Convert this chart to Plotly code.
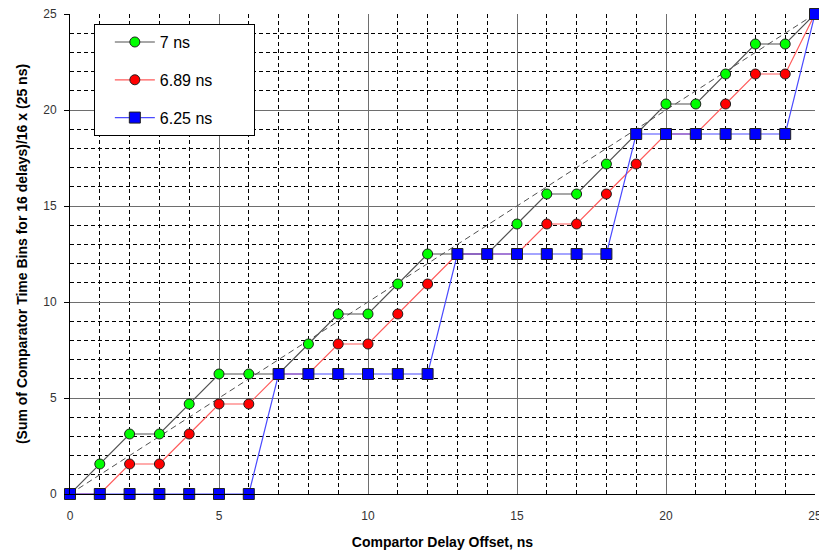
import plotly.graph_objects as go

# Comparator delay offsets (ns)
offsets = list(range(26))

# (Sum of comparator time bins for 16 delays)/16 x 25 ns, in bin counts (x 25/16)
bins_7ns = [0, 1, 2, 2, 3, 4, 4, 4, 5, 6, 6, 7, 8, 8, 8, 9, 10, 10, 11, 12, 13, 13, 14, 15, 15, 16]
bins_689ns = [0, 0, 1, 1, 2, 3, 3, 4, 4, 5, 5, 6, 7, 8, 8, 8, 9, 9, 10, 11, 12, 12, 13, 14, 14, 16]
bins_625ns = [0, 0, 0, 0, 0, 0, 0, 4, 4, 4, 4, 4, 4, 8, 8, 8, 8, 8, 8, 12, 12, 12, 12, 12, 12, 16]

bin_scale = 25 / 16
series_names = ["7 ns", "6.89 ns", "6.25 ns"]

# Ideal reference line
ideal_x = [0, 25]
ideal_y = [0, 25]

fig = go.Figure()

fig.add_trace(go.Scatter(
    x=ideal_x, y=ideal_y, mode="lines", showlegend=False, hoverinfo="skip",
    line=dict(color="#505050", width=1, dash="6px,4px"),
))

styles = [
    dict(line="#505050", marker="#00ff00", symbol="circle", size=10),
    dict(line="#ff5a5a", marker="#ff0000", symbol="circle", size=10),
    dict(line="#4a4aff", marker="#0000ff", symbol="square", size=11),
]

# trailing non-breaking spaces give the legend box some room on the right
legend_pad = "\u00a0" * 8

for i, (name, vals, st) in enumerate(zip(series_names, [bins_7ns, bins_689ns, bins_625ns], styles)):
    fig.add_trace(go.Scatter(
        x=offsets, y=[v * bin_scale for v in vals], name=name + legend_pad, mode="lines+markers",
        legendgroup=f"g{i}", cliponaxis=False,
        line=dict(color=st["line"], width=1.2),
        marker=dict(color=st["marker"], symbol=st["symbol"], size=st["size"],
                    line=dict(color="#202020", width=1)),
    ))

axis_common = dict(
    range=[0, 25], dtick=5, tick0=0, automargin=False, ticklabeloverflow="allow",
    showgrid=True, gridcolor="#6e6e6e", gridwidth=1,
    zeroline=False, showline=True, linecolor="black", linewidth=1,
    tickfont=dict(family="Liberation Sans, Arial, sans-serif", size=12, color="#333333"),
    minor=dict(dtick=1, tick0=0, showgrid=True, gridcolor="#000000", gridwidth=1, griddash="4px,3px"),
)

fig.update_layout(
    width=819, height=550,
    margin=dict(l=70, r=4, t=14, b=56),
    paper_bgcolor="white", plot_bgcolor="white",
    font=dict(family="Liberation Sans, Arial, sans-serif", color="black"),
    xaxis=dict(
        **axis_common,
        ticks="", ticklabelstandoff=11,
        title=dict(text="<b>Compartor Delay Offset, ns</b>", font=dict(size=14), standoff=20),
    ),
    yaxis=dict(
        **axis_common,
        ticks="outside", ticklen=5, tickcolor="black", ticklabelstandoff=5,
        title=dict(text="<b>(Sum of Comparator Time Bins for 16 delays)/16 x (25 ns)</b>",
                   font=dict(size=14), standoff=12),
    ),
    legend=dict(
        x=0.032, y=0.979, xanchor="left", yanchor="top",
        bgcolor="white", bordercolor="black", borderwidth=1,
        font=dict(size=16, color="black"),
        tracegroupgap=14, traceorder="grouped",
        itemwidth=40, indentation=15,
    ),
)

fig.write_html("out.html")
